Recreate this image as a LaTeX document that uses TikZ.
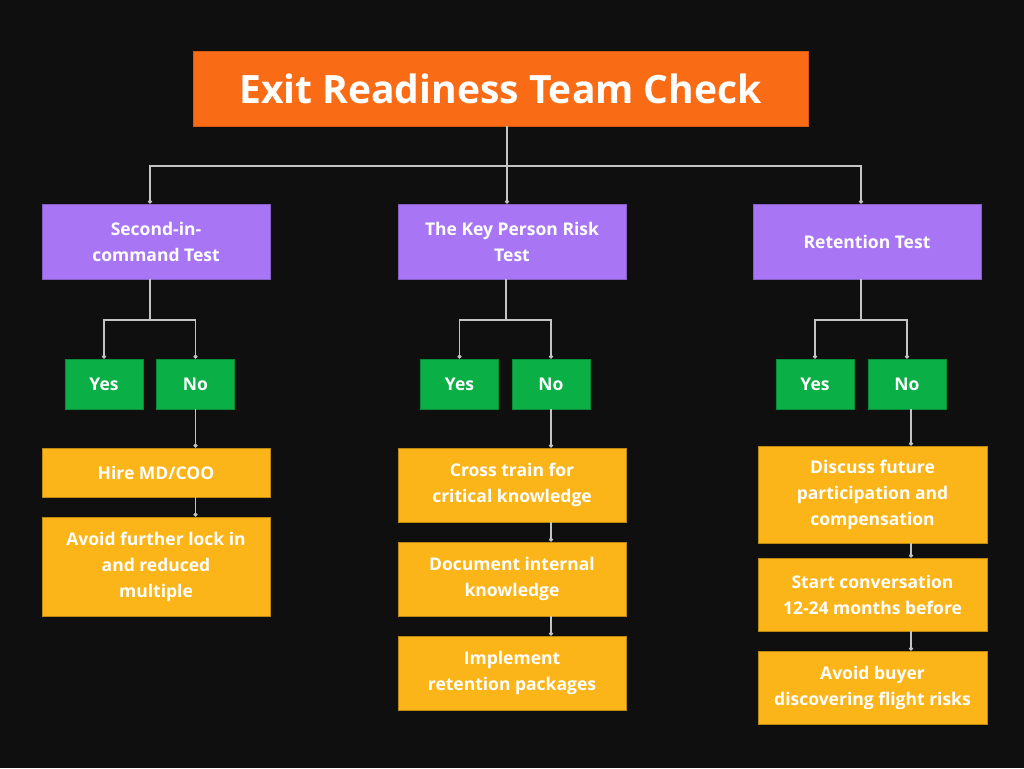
\documentclass[tikz,border=0pt]{standalone}
\usepackage{fontspec}
\setmainfont{Open Sans}
\usetikzlibrary{arrows.meta}
\definecolor{bgdark}{HTML}{0F0F0F}
\definecolor{titleorange}{HTML}{FA6B16}
\definecolor{testpurple}{HTML}{A876F5}
\definecolor{answergreen}{HTML}{0AAF45}
\definecolor{actionyellow}{HTML}{FCB518}
\definecolor{linkgray}{HTML}{C4C4C4}

\begin{document}
\begin{tikzpicture}[x=1pt,y=-1pt,
    box/.style={rectangle, inner sep=0pt, text=white, align=center,
      font=\fontsize{17.5}{26}\selectfont\bfseries},
    titlebox/.style={box, fill=titleorange, draw=titleorange!85!black, line width=0.8pt,
      minimum width=615pt, minimum height=75pt, font=\fontsize{39}{44}\selectfont\bfseries},
    testbox/.style={box, fill=testpurple, draw=testpurple!80!black, line width=0.8pt,
      minimum width=228pt, minimum height=75pt},
    answerbox/.style={box, fill=answergreen, draw=answergreen!80!black, line width=0.8pt,
      minimum width=78pt, minimum height=50pt},
    actionbox/.style={box, fill=actionyellow, draw=actionyellow!75!black, line width=0.8pt,
      minimum width=228pt},
    link/.style={draw=linkgray, line width=1.2pt},
    dotlink/.style={link, -{Circle[length=4pt]}}]
  % background
  \fill[bgdark] (0,0) rectangle (1024,768);

  % title
  \node[titlebox] (title) at (500.5,88.5) {Exit Readiness Team Check};

  % tests
  \node[testbox] (second) at (156,241.5) {Second-in-\\command Test};
  \node[testbox] (keyperson) at (512,241.5) {The Key Person Risk\\Test};
  \node[testbox] (retention) at (867,241.5) {Retention Test};

  % yes / no answers
  \node[answerbox] (yes1) at (104,384) {Yes};
  \node[answerbox] (no1) at (195.5,384) {No};
  \node[answerbox] (yes2) at (459.5,384) {Yes};
  \node[answerbox] (no2) at (551,384) {No};
  \node[answerbox] (yes3) at (815,384) {Yes};
  \node[answerbox] (no3) at (907,384) {No};

  % actions
  \node[actionbox, minimum height=49pt] (hire) at (156,472.5) {Hire MD/COO};
  \node[actionbox, minimum height=99pt] (lockin) at (156,566.5) {Avoid further lock in\\and reduced\\multiple};
  \node[actionbox, minimum height=74pt] (crosstrain) at (512,485) {Cross train for\\critical knowledge};
  \node[actionbox, minimum height=74pt] (document) at (512,579) {Document internal\\knowledge};
  \node[actionbox, minimum height=74pt] (packages) at (512,673) {Implement\\retention packages};
  \node[actionbox, minimum width=229pt, minimum height=97pt] (discuss) at (872.5,494.5) {Discuss future\\participation and\\compensation};
  \node[actionbox, minimum width=229pt, minimum height=73pt] (conversation) at (872.5,594.5) {Start conversation\\12-24 months before};
  \node[actionbox, minimum width=229pt, minimum height=73pt] (flightrisk) at (872.5,687.5) {Avoid buyer\\discovering flight risks};

  % branch points
  \coordinate (hub) at (507,166);
  \coordinate (split1) at (150,320);
  \coordinate (split2) at (506,320);
  \coordinate (split3) at (861,320);

  % title to tests
  \draw[link] (title.south -| hub) -- (hub);
  \draw[dotlink] (hub) -| ([xshift=-6pt]second.north);
  \draw[dotlink] (hub) -- (hub |- keyperson.north);
  \draw[dotlink] (hub) -| ([xshift=-6pt]retention.north);

  % tests to answers
  \draw[link] (second.south -| split1) -- (split1);
  \draw[dotlink] (split1) -| (yes1.north);
  \draw[dotlink] (split1) -| (no1.north);
  \draw[link] (keyperson.south -| split2) -- (split2);
  \draw[dotlink] (split2) -| (yes2.north);
  \draw[dotlink] (split2) -| (no2.north);
  \draw[link] (retention.south -| split3) -- (split3);
  \draw[dotlink] (split3) -| (yes3.north);
  \draw[dotlink] (split3) -| (no3.north);

  % answers to actions
  \draw[dotlink] (no1.south) -- (no1.south |- hire.north);
  \draw[dotlink] (hire.south -| no1) -- (lockin.north -| no1);
  \draw[dotlink] (no2.south) -- (no2.south |- crosstrain.north);
  \draw[dotlink] (crosstrain.south -| no2) -- (document.north -| no2);
  \draw[dotlink] (document.south -| no2) -- (packages.north -| no2);
  \draw[dotlink] ([xshift=4pt]no3.south) -- ([xshift=4pt]no3.south |- discuss.north);
  \draw[dotlink] ([xshift=4pt]discuss.south -| no3) -- ([xshift=4pt]conversation.north -| no3);
  \draw[dotlink] ([xshift=4pt]conversation.south -| no3) -- ([xshift=4pt]flightrisk.north -| no3);
\end{tikzpicture}
\end{document}
